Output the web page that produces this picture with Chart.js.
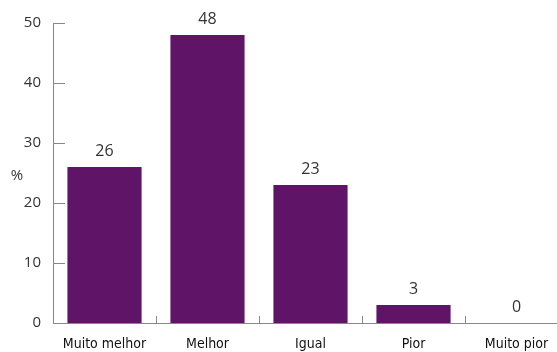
<!DOCTYPE html>
<html>
<head>
<meta charset="utf-8">
<script src="https://cdn.jsdelivr.net/npm/chart.js@4/dist/chart.umd.min.js"></script>
<style>
  html, body { margin: 0; padding: 0; background: #fff; overflow: hidden; }
  #wrap { width: 568px; height: 352px; }
</style>
</head>
<body>
<div id="wrap"><canvas id="chart"></canvas></div>
<script>
const categories = ["Muito melhor", "Melhor", "Igual", "Pior", "Muito pior"];
const values = [26, 48, 23, 3, 0];
const yTicks = [0, 10, 20, 30, 40, 50];

const barColor = "#5f1467";
const axisColor = "#888";

// inside tick marks, "%" label, category names and the numbers over the bars
const decorations = {
  id: "decorations",
  afterDraw(chart) {
    const ctx = chart.ctx;
    const x = chart.scales.x;
    const y = chart.scales.y;
    const area = chart.chartArea;
    ctx.save();
    ctx.strokeStyle = axisColor;
    ctx.lineWidth = 1;
    ctx.beginPath();
    yTicks.forEach(v => {
      const py = Math.round(y.getPixelForValue(v)) + 0.5;
      ctx.moveTo(area.left, py);
      ctx.lineTo(area.left + 12, py);
    });
    for (let i = 1; i < categories.length; i++) {
      const px = Math.round((x.getPixelForValue(i - 1) + x.getPixelForValue(i)) / 2) + 0.5;
      ctx.moveTo(px, area.bottom);
      ctx.lineTo(px, area.bottom - 7);
    }
    ctx.stroke();

    ctx.fillStyle = "#333";
    ctx.font = "15px 'Open Sans', sans-serif";
    ctx.textAlign = "center";
    ctx.textBaseline = "middle";
    ctx.fillText("%", 17, 176);

    ctx.font = "16px 'Open Sans', sans-serif";
    ctx.textBaseline = "bottom";
    chart.getDatasetMeta(0).data.forEach((bar, i) => {
      ctx.fillText(String(values[i]), bar.x, bar.y - 8);
    });

    ctx.fillStyle = "#111";
    ctx.font = "14px 'DejaVu Sans Condensed', 'DejaVu Sans', sans-serif";
    if ("fontStretch" in ctx) ctx.fontStretch = "condensed";
    ctx.textBaseline = "middle";
    categories.forEach((c, i) => {
      ctx.fillText(c, x.getPixelForValue(i), area.bottom + 21);
    });
    ctx.restore();
  }
};

new Chart(document.getElementById("chart").getContext("2d"), {
  type: "bar",
  data: {
    labels: categories,
    datasets: [{ data: values, backgroundColor: barColor, barPercentage: 0.8, categoryPercentage: 0.9 }]
  },
  options: {
    responsive: true,
    maintainAspectRatio: false,
    animation: false,
    layout: { padding: { top: 23, right: 0, left: 0, bottom: 0 } },
    plugins: { legend: { display: false }, tooltip: { enabled: false } },
    scales: {
      x: {
        grid: { display: false, drawTicks: false },
        border: { display: true, color: axisColor, width: 1 },
        ticks: { display: false },
        afterFit(scale) { scale.height = 29; }
      },
      y: {
        min: 0,
        max: 50,
        grid: { display: false, drawTicks: false },
        border: { display: true, color: axisColor, width: 1 },
        ticks: {
          stepSize: 10,
          color: "#333",
          padding: 12,
          font: { family: "'Open Sans', sans-serif", size: 15 }
        },
        afterFit(scale) { scale.width = 53; }
      }
    }
  },
  plugins: [decorations]
});
</script>
</body>
</html>
